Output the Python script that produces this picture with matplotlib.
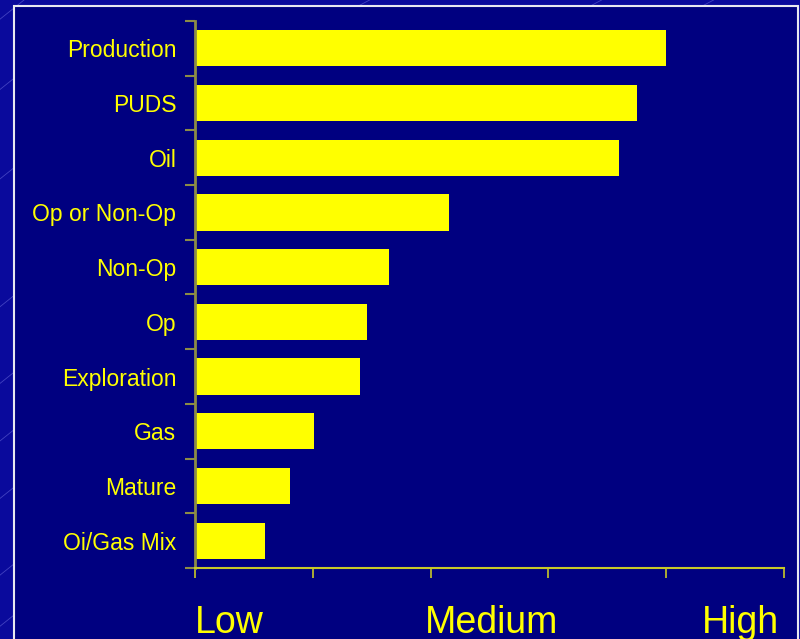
import matplotlib.pyplot as plt
import matplotlib.transforms as mtransforms
from matplotlib.patches import Rectangle
from matplotlib.lines import Line2D

plt.rcParams['font.family'] = ['Liberation Sans', 'DejaVu Sans']

# activity ratings on a 0 (low) .. 5 (high) scale, top row first
categories = ['Production', 'PUDS', 'Oil', 'Op or Non-Op', 'Non-Op', 'Op',
              'Exploration', 'Gas', 'Mature', 'Oi/Gas Mix']
scores = [4.0, 3.75, 3.6, 2.16, 1.65, 1.46, 1.4, 1.01, 0.81, 0.59]
scale_labels = ['Low', 'Medium', 'High']

navy = '#000080'
yellow = '#ffff00'

fig = plt.figure(figsize=(8, 6.39), dpi=100, facecolor='#0a0a9c')

# faint diagonal streaks on the slide background
for y0 in [0.97, 0.86, 0.72, 0.52, 0.40, 0.31, 0.22, 0.10, 0.02]:
    fig.add_artist(Line2D([0.0, 0.03], [y0, y0 + 0.03], color='#5a5ad0',
                          lw=0.6, alpha=0.7, zorder=-2))
for x0 in [0.45, 0.74, 0.88]:
    fig.add_artist(Line2D([x0, x0 + 0.012], [0.992, 1.0], color='#5a5ad0',
                          lw=0.6, alpha=0.7, zorder=-2))

# navy panel with white frame
fig.add_artist(Rectangle((14 / 800, -0.05), (798 - 14) / 800, 1 - 6 / 639 + 0.05,
                         transform=fig.transFigure, facecolor=navy,
                         edgecolor='#e8e8f0', lw=1.5, zorder=-1))

ax = fig.add_axes([195 / 800, 1 - 568 / 639, (784 - 195) / 800, (568 - 21) / 639])
ax.set_facecolor('none')

pos = list(range(len(categories)))
ax.barh(pos, scores, height=0.66, color=yellow, zorder=2)

ax.set_xlim(0, 5)
ax.set_ylim(len(categories) - 0.5, -0.5)

ax.set_yticks(pos)
ax.set_yticklabels(categories, color=yellow, fontsize=16.5)
ax.set_yticks([p - 0.5 for p in range(len(categories) + 1)], minor=True)
ax.tick_params(axis='y', which='major', length=0, pad=13.5)
ax.tick_params(axis='y', which='minor', length=7, width=1.5, color='#8c8c46')

ax.set_xticks(range(6))
ax.set_xticklabels([])
ax.tick_params(axis='x', length=7, width=1.2, color='#c8c828')

for side in ['top', 'right']:
    ax.spines[side].set_visible(False)
ax.spines['left'].set_color('#8c8c46')
ax.spines['left'].set_linewidth(2)
ax.spines['bottom'].set_color('#c8c828')
ax.spines['bottom'].set_linewidth(1.5)

# Low / Medium / High scale captions under the axis
label_y = 1 - 633 / 639
blend = mtransforms.blended_transform_factory(ax.transData, fig.transFigure)
ax.text(0, label_y, scale_labels[0], color=yellow, fontsize=27, ha='left',
        va='baseline', transform=blend, clip_on=False)
ax.text(2.52, label_y, scale_labels[1], color=yellow, fontsize=27, ha='center',
        va='baseline', transform=blend, clip_on=False)
ax.text(4.96, label_y, scale_labels[2], color=yellow, fontsize=27, ha='right',
        va='baseline', transform=blend, clip_on=False)

fig.savefig('out.png', dpi=100, facecolor=fig.get_facecolor())
